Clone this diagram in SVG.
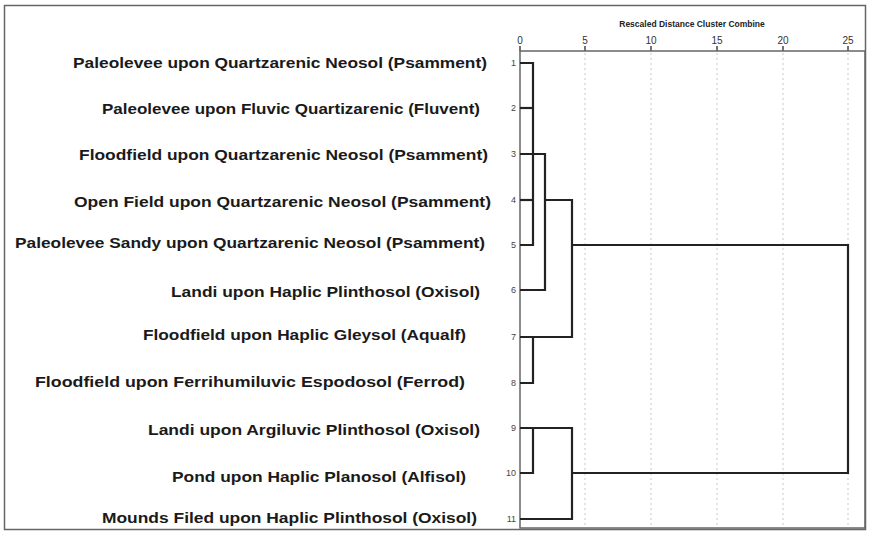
<svg xmlns="http://www.w3.org/2000/svg" width="873" height="554" viewBox="0 0 873 554">
<style>
.lbl{font-family:"Liberation Sans",Arial,sans-serif;font-weight:bold;font-size:15px;fill:#1a1a1a;}
.num{font-family:"Liberation Sans",Arial,sans-serif;font-size:9px;fill:#444;text-anchor:end;}
.tick{font-family:"Liberation Sans",Arial,sans-serif;font-size:10px;fill:#333;text-anchor:middle;}
.title{font-family:"Liberation Sans",Arial,sans-serif;font-weight:bold;font-size:8.5px;fill:#222;text-anchor:middle;}
.grid{stroke:#c8c8c8;stroke-width:1;stroke-dasharray:2,3;fill:none;}
.dend{stroke:#222;stroke-width:2.2;fill:none;stroke-linejoin:miter;}
.frame{stroke:#666;stroke-width:1.5;fill:none;}
</style>
<rect x="0" y="0" width="873" height="554" fill="#fff"/>
<rect class="frame" x="4.5" y="5.5" width="861" height="524" stroke="#777" stroke-width="2"/>
<g id="axis">
<text class="title" x="692" y="27">Rescaled Distance Cluster Combine</text>
<g class="grid">
<line x1="585" y1="53" x2="585" y2="527"/>
<line x1="651" y1="53" x2="651" y2="527"/>
<line x1="717" y1="53" x2="717" y2="527"/>
<line x1="783" y1="53" x2="783" y2="527"/>
<line x1="848" y1="53" x2="848" y2="527"/>
</g>
<text class="tick" x="520" y="44">0</text>
<text class="tick" x="585" y="44">5</text>
<text class="tick" x="651" y="44">10</text>
<text class="tick" x="717" y="44">15</text>
<text class="tick" x="783" y="44">20</text>
<text class="tick" x="848" y="44">25</text>
<g stroke="#444" stroke-width="1.5">
<line x1="520" y1="46" x2="520" y2="51"/>
<line x1="585" y1="46" x2="585" y2="51"/>
<line x1="651" y1="46" x2="651" y2="51"/>
<line x1="717" y1="46" x2="717" y2="51"/>
<line x1="783" y1="46" x2="783" y2="51"/>
<line x1="848" y1="46" x2="848" y2="51"/>
</g>
<rect class="frame" x="520" y="51" width="345" height="477"/>
</g>
<g id="n1"><text class="lbl" x="73" y="68" textLength="414" lengthAdjust="spacingAndGlyphs">Paleolevee upon Quartzarenic Neosol (Psamment)</text><text class="num" x="516" y="66">1</text></g>
<g id="n2"><text class="lbl" x="102" y="114" textLength="378" lengthAdjust="spacingAndGlyphs">Paleolevee upon Fluvic Quartizarenic (Fluvent)</text><text class="num" x="516" y="111">2</text></g>
<g id="n3"><text class="lbl" x="79" y="160" textLength="409" lengthAdjust="spacingAndGlyphs">Floodfield upon Quartzarenic Neosol (Psamment)</text><text class="num" x="516" y="157">3</text></g>
<g id="n4"><text class="lbl" x="74" y="207" textLength="417" lengthAdjust="spacingAndGlyphs">Open Field upon Quartzarenic Neosol (Psamment)</text><text class="num" x="516" y="203">4</text></g>
<g id="n5"><text class="lbl" x="15" y="248" textLength="470" lengthAdjust="spacingAndGlyphs">Paleolevee Sandy upon Quartzarenic Neosol (Psamment)</text><text class="num" x="516" y="248">5</text></g>
<g id="n6"><text class="lbl" x="171" y="297" textLength="309" lengthAdjust="spacingAndGlyphs">Landi upon Haplic Plinthosol (Oxisol)</text><text class="num" x="516" y="293">6</text></g>
<g id="n7"><text class="lbl" x="143" y="340" textLength="323" lengthAdjust="spacingAndGlyphs">Floodfield upon Haplic Gleysol (Aqualf)</text><text class="num" x="516" y="340">7</text></g>
<g id="n8"><text class="lbl" x="35" y="387" textLength="430" lengthAdjust="spacingAndGlyphs">Floodfield upon Ferrihumiluvic Espodosol (Ferrod)</text><text class="num" x="516" y="386">8</text></g>
<g id="n9"><text class="lbl" x="148" y="435" textLength="332" lengthAdjust="spacingAndGlyphs">Landi upon Argiluvic Plinthosol (Oxisol)</text><text class="num" x="516" y="431">9</text></g>
<g id="n10"><text class="lbl" x="172" y="482" textLength="294" lengthAdjust="spacingAndGlyphs">Pond upon Haplic Planosol (Alfisol)</text><text class="num" x="516" y="476">10</text></g>
<g id="n11"><text class="lbl" x="102" y="523" textLength="375" lengthAdjust="spacingAndGlyphs">Mounds Filed upon Haplic Plinthosol (Oxisol)</text><text class="num" x="516" y="522">11</text></g>
<g id="connectors" class="dend">
<polyline points="520,63 533,63 533,245 520,245"/>
<line x1="520" y1="108" x2="533" y2="108"/>
<line x1="520" y1="200" x2="533" y2="200"/>
<polyline points="520,154 545,154 545,290 520,290"/>
<polyline points="545,200 572,200 572,337 520,337"/>
<polyline points="533,337 533,383 520,383"/>
<polyline points="572,245 848,245 848,473 572,473"/>
<polyline points="520,428 572,428 572,519 520,519"/>
<polyline points="533,428 533,473 520,473"/>
</g>
</svg>
